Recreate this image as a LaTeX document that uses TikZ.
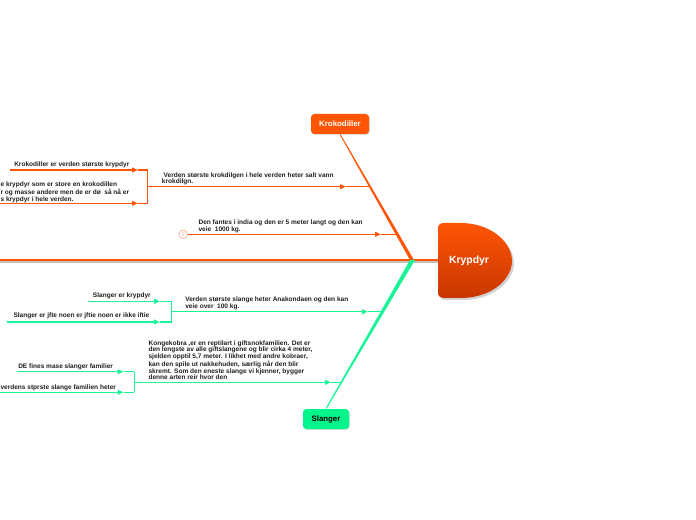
\documentclass[tikz,border=0pt]{standalone}
\usepackage{fontspec}
\setmainfont{Liberation Sans}
\usetikzlibrary{arrows.meta,shadows,calc}
\definecolor{orng}{RGB}{255,85,5}
\definecolor{orngdark}{RGB}{200,55,0}
\definecolor{grn}{RGB}{25,245,150}
\definecolor{grnbox}{RGB}{0,245,140}
\definecolor{circ}{RGB}{255,170,140}
\tikzset{
  txt/.style={anchor=north west, inner sep=0pt, align=left,
    font=\fontsize{4.9}{4.95}\selectfont\bfseries, text=black!88},
  ol/.style={draw=orng, line width=1.1pt},
  gl/.style={draw=grn, line width=1.1pt},
  tip/.style={-{Triangle[length=4.5pt,width=3.6pt]}},
  topicbox/.style={rounded corners=2.5pt, minimum height=15pt, inner sep=0pt,
    font=\fontsize{5.9}{7}\selectfont\bfseries,
    drop shadow={shadow xshift=0.8pt, shadow yshift=-0.8pt, opacity=0.25}}
}
\begin{document}
\begin{tikzpicture}[x=0.75pt,y=-0.75pt]
\useasboundingbox (0,0) rectangle (696,520);

% central topic
\fill[black, opacity=0.18] (440,294) -- (440,231) .. controls (440,227) and (442,225) .. (446,225) -- (464,225) .. controls (497,226) and (514,247) .. (514,263) .. controls (514,279) and (497,299) .. (464,300) -- (446,300) .. controls (442,300) and (440,298) .. (440,294) -- cycle;
\shade[top color=orng, bottom color=orngdark] (438,292) -- (438,229) .. controls (438,225) and (440,223) .. (444,223) -- (462,223) .. controls (495,224) and (512,245) .. (512,261) .. controls (512,277) and (495,297) .. (462,298) -- (444,298) .. controls (440,298) and (438,296) .. (438,292) -- cycle;
\node[font=\fontsize{7.8}{9}\selectfont\bfseries, text=white, inner sep=0pt] (root) at (469,261) {Krypdyr};
\coordinate (rootw) at (438,260);

% spine
\coordinate (spineL) at (0,260);
\coordinate (joint) at (412,260);
\draw[black!25, line width=1.2pt] (0,261.8) -- (438,261.8);
\draw[orng, line width=2.2pt] (spineL) -- (rootw);

% main topics
\node[topicbox, fill=orng, text=white, minimum width=43.5pt] (K) at (340,124) {Krokodiller};
\node[topicbox, fill=grnbox, text=black, minimum width=34.5pt] (S) at (326,419) {Slanger};

% bones (tapered)
\fill[orng] ($(K.south)+(-0.5,0)$) -- ($(K.south)+(0.5,0)$) -- (414,260) -- (410,260) -- cycle;
\fill[grn] (410,260) -- (415,260) -- ($(S.north)+(0.6,0)$) -- ($(S.north)+(-0.6,0)$) -- cycle;

% ---------- Krokodiller branch 1
\coordinate (k1s) at (147.7,186.7);
\coordinate (k1a) at (346,186.7);
\coordinate (k1e) at (370.1,186.7);
\draw[ol,tip] (k1s) -- (k1a);
\draw[ol] (k1a) -- (k1e);
\node[txt] (t3) at (161.7,172.2) {\hspace*{1.3pt}Verden største krokdilgen i hele verden heter salt vann\\krokdilgn.};
% bracket
\coordinate (k1bt) at (147.7,170);
\coordinate (k1bb) at (147.7,203.3);
\draw[ol] (k1bt) -- (k1bb);
\coordinate (k11s) at (10,170);
\coordinate (k11a) at (138,170);
\draw[ol,tip] (k11s) -- (k11a);
\draw[ol] (k11a) -- (k1bt);
\node[txt] (t1) at (14,161.5) {Krokodiller er verden største krypdyr};
\coordinate (k12s) at (0,203.3);
\coordinate (k12a) at (138,203.3);
\draw[ol,tip] (k12s) -- (k12a);
\draw[ol] (k12a) -- (k1bb);
\node[txt] (t2) at (0.3,181.8) {e krypdyr som er store en krokodillen\\r og masse andere men de er dø\ \ så nå er\\s krypdyr i hele verden.};

% ---------- Krokodiller branch 2
\node[circle, draw=circ, line width=0.5pt, minimum size=6.4pt, inner sep=0pt, text=circ,
  font=\fontsize{4}{4}\selectfont] (c2) at (183.3,234.3) {2};
\coordinate (k2a) at (381,234.3);
\coordinate (k2e) at (397.3,234.3);
\draw[ol,tip] (c2.east) -- (k2a);
\draw[ol] (k2a) -- (k2e);
\node[txt] (t4) at (198.3,219.8) {Den fantes i india og den er 5 meter langt og den kan\\veie\ \ 1000 kg.};

% ---------- Slanger branch 1
\coordinate (s1s) at (171.7,311.7);
\coordinate (s1a) at (368,311.7);
\coordinate (s1e) at (382.4,311.7);
\draw[gl,tip] (s1s) -- (s1a);
\draw[gl] (s1a) -- (s1e);
\node[txt] (t7) at (185,296.5) {Verden største slange heter Anakondaen og den kan\\veie over\ \ 100 kg.};
\coordinate (s1bt) at (171.7,301.3);
\coordinate (s1bb) at (171.7,322);
\draw[gl] (s1bt) -- (s1bb);
\coordinate (s11s) at (88,301.3);
\coordinate (s11a) at (160,301.3);
\draw[gl,tip] (s11s) -- (s11a);
\draw[gl] (s11a) -- (s1bt);
\node[txt] (t5) at (92.7,292.5) {Slanger er krypdyr};
\coordinate (s12s) at (6.7,322);
\coordinate (s12a) at (160,322);
\draw[gl,tip] (s12s) -- (s12a);
\draw[gl] (s12a) -- (s1bb);
\node[txt] (t6) at (13.3,312.5) {Slanger er jfte noen er jftie noen er ikke iftie};

% ---------- Slanger branch 2
\coordinate (s2s) at (134.3,382.3);
\coordinate (s2a) at (331,382.3);
\coordinate (s2e) at (342.1,382.3);
\draw[gl,tip] (s2s) -- (s2a);
\draw[gl] (s2a) -- (s2e);
\node[txt] (t10) at (148.3,340.3) {Kongekobra ,er en reptilart i giftsnokfamilien. Det er\\den lengste av alle giftslangene og blir cirka 4 meter,\\sjelden opptil 5,7 meter. I likhet med andre kobraer,\\kan den spile ut nakkehuden, særlig når den blir\\skremt. Som den eneste slange vi kjenner, bygger\\denne arten reir hvor den};
\coordinate (s2bt) at (134.3,371.7);
\coordinate (s2bb) at (134.3,392.3);
\draw[gl] (s2bt) -- (s2bb);
\coordinate (s21s) at (16.7,371.7);
\coordinate (s21a) at (123.5,371.7);
\draw[gl,tip] (s21s) -- (s21a);
\draw[gl] (s21a) -- (s2bt);
\node[txt] (t8) at (18,363.2) {DE fines mase slanger familier};
\coordinate (s22s) at (0,392.3);
\coordinate (s22a) at (123.5,392.3);
\draw[gl,tip] (s22s) -- (s22a);
\draw[gl] (s22a) -- (s2bb);
\node[txt] (t9) at (0.3,384.8) {verdens stprste slange familien heter};
\end{tikzpicture}
\end{document}
